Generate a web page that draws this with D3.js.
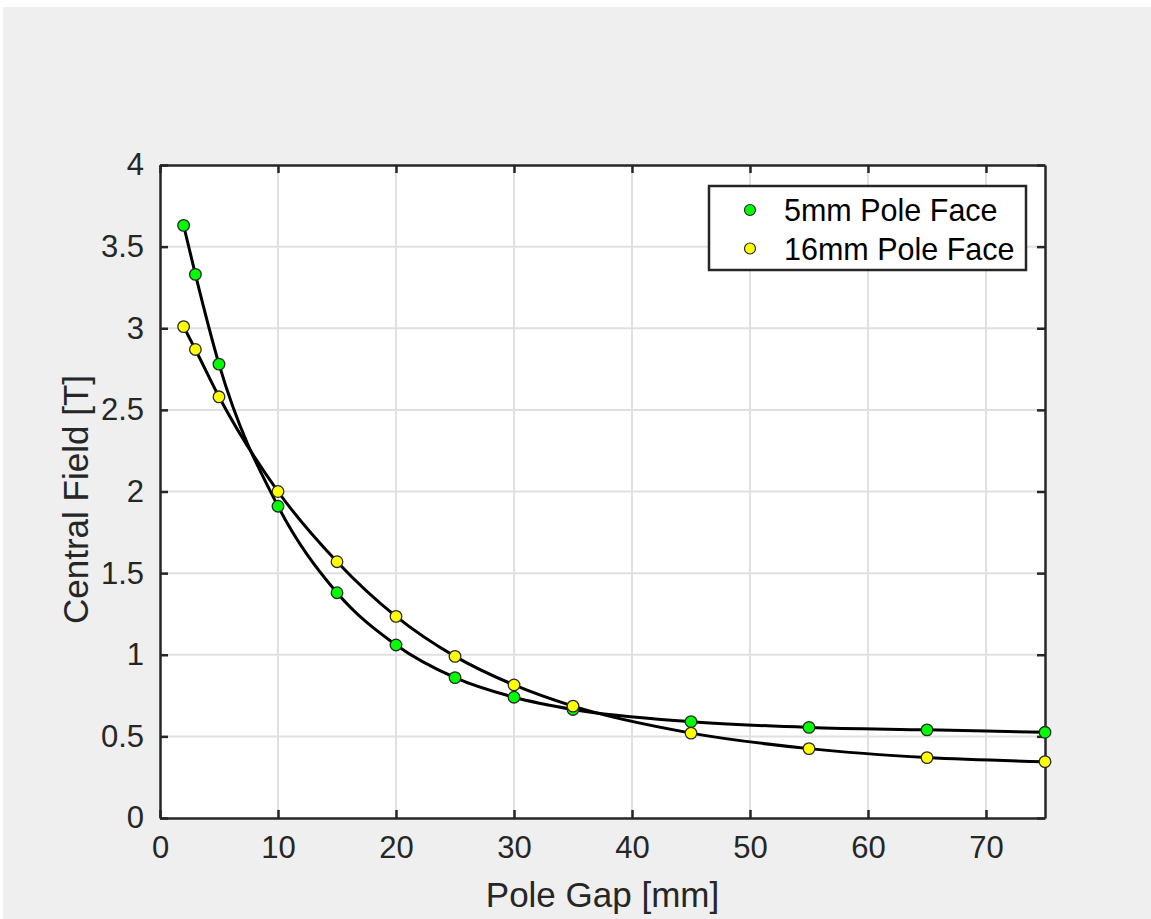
<!DOCTYPE html>
<html><head><meta charset="utf-8">
<script src="https://cdn.jsdelivr.net/npm/d3@7"></script>
<style>
html,body{margin:0;padding:0;background:#fff;}
svg{display:block;}
text{font-family:"Liberation Sans",Arial,Helvetica,sans-serif;}
</style></head>
<body>
<svg id="chart" width="1151" height="919"></svg>
<script>
const gapMm = [2, 3, 5, 10, 15, 20, 25, 30, 35, 45, 55, 65, 75];
const field5mm = [3.63, 3.33, 2.78, 1.91, 1.38, 1.06, 0.86, 0.74, 0.665, 0.59, 0.555, 0.54, 0.525];
const field16mm = [3.01, 2.87, 2.58, 2.00, 1.57, 1.235, 0.99, 0.815, 0.685, 0.52, 0.425, 0.37, 0.345];
const seriesNames = ["5mm Pole Face", "16mm Pole Face"];
const seriesColors = ["#00ff00", "#ffff00"];
const xTicks = [0, 10, 20, 30, 40, 50, 60, 70];
const yTicks = [0, 0.5, 1, 1.5, 2, 2.5, 3, 3.5, 4];
const xLabel = "Pole Gap [mm]";
const yLabel = "Central Field [T]";

const svg = d3.select("#chart");
svg.append("rect").attr("x", 3).attr("y", 7).attr("width", 1148).attr("height", 912).attr("fill", "#efefef");

const L = 160, R = 1045, T = 165, B = 818;
const x = d3.scaleLinear().domain([0, 75]).range([L, R]);
const y = d3.scaleLinear().domain([0, 4]).range([B, T]);

svg.append("rect").attr("x", L).attr("y", T).attr("width", R - L).attr("height", B - T).attr("fill", "#fff");

// grid
const grid = svg.append("g").attr("stroke", "#e0e0e0").attr("stroke-width", 2);
xTicks.forEach(t => { if (t > 0) grid.append("line").attr("x1", x(t)).attr("x2", x(t)).attr("y1", T).attr("y2", B); });
yTicks.forEach(t => { if (t > 0 && t < 4) grid.append("line").attr("x1", L).attr("x2", R).attr("y1", y(t)).attr("y2", y(t)); });

// axes
const axColor = "#262626";
const fs = 31;
const xAxisB = d3.axisBottom(x).tickValues(xTicks).tickSizeInner(-8).tickSizeOuter(0).tickPadding(18).tickFormat(d3.format("d"));
const xAxisT = d3.axisTop(x).tickValues(xTicks).tickSizeInner(-8).tickSizeOuter(0).tickFormat("");
const yAxisL = d3.axisLeft(y).tickValues(yTicks).tickSizeInner(-8).tickSizeOuter(0).tickPadding(16).tickFormat(d => d3.format("")(d));
const yAxisR = d3.axisRight(y).tickValues(yTicks).tickSizeInner(-8).tickSizeOuter(0).tickFormat("");

function styleAxis(g) {
  g.selectAll("path").attr("stroke", axColor).attr("stroke-width", 2.5);
  g.selectAll("line").attr("stroke", axColor).attr("stroke-width", 2.5);
  g.selectAll("text").attr("fill", axColor).style("font-size", fs + "px").style("font-family", '"Liberation Sans",Arial,sans-serif');
}
svg.append("g").attr("transform", `translate(0,${B})`).call(xAxisB).call(styleAxis);
svg.append("g").attr("transform", `translate(0,${T})`).call(xAxisT).call(styleAxis);
svg.append("g").attr("transform", `translate(${L},0)`).call(yAxisL).call(styleAxis);
svg.append("g").attr("transform", `translate(${R},0)`).call(yAxisR).call(styleAxis);

// labels
svg.append("text").attr("x", (L + R) / 2).attr("y", 907).attr("text-anchor", "middle")
  .attr("fill", axColor).style("font-size", "35px").text(xLabel);
svg.append("text").attr("transform", `translate(88,${(T + B) / 2 + 8}) rotate(-90)`).attr("text-anchor", "middle")
  .attr("fill", axColor).style("font-size", "35px").text(yLabel);

// lines and points
const series = [field5mm, field16mm];
const line = d3.line().x(d => x(d[0])).y(d => y(d[1])).curve(d3.curveMonotoneX);
series.forEach((vals, i) => {
  const pts = gapMm.map((g, j) => [g, vals[j]]);
  svg.append("path").datum(pts).attr("d", line).attr("fill", "none").attr("stroke", "#000").attr("stroke-width", 3);
});
series.forEach((vals, i) => {
  const pts = gapMm.map((g, j) => [g, vals[j]]);
  svg.append("g").selectAll("circle").data(pts).join("circle")
    .attr("cx", d => x(d[0])).attr("cy", d => y(d[1])).attr("r", 5.8)
    .attr("fill", seriesColors[i]).attr("stroke", "#2a2a2a").attr("stroke-width", 1.3);
});

// legend
const lg = svg.append("g");
lg.append("rect").attr("x", 709).attr("y", 186).attr("width", 317).attr("height", 84)
  .attr("fill", "#fff").attr("stroke", axColor).attr("stroke-width", 2.5);
seriesNames.forEach((n, i) => {
  const cy = 210 + i * 38.5;
  lg.append("circle").attr("cx", 750).attr("cy", cy).attr("r", 5.5).attr("fill", seriesColors[i]).attr("stroke", "#2a2a2a").attr("stroke-width", 1.2);
  lg.append("text").attr("x", 784).attr("y", cy + 11).attr("fill", "#000").style("font-size", "30.5px").text(n);
});
</script>
</body></html>
